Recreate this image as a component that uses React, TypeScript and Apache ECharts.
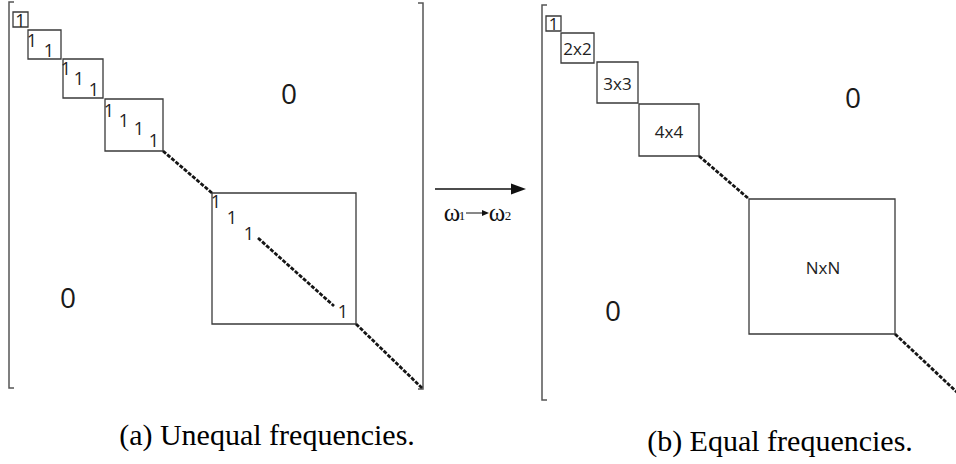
import React, { useEffect, useRef } from "react";
import * as echarts from "echarts";

// Drawing space (same units as the picture, y grows downward)
const SPACE_W = 956;
const SPACE_H = 464;

// Block boxes [x1, y1, x2, y2]
const boxesA = [
  [13, 12, 28, 27],
  [28, 30, 61, 59],
  [63, 59, 103, 98],
  [105, 99, 163, 151],
  [212, 193, 356, 324],
];
const boxesB = [
  [546, 16, 561, 31],
  [561, 33, 594, 63],
  [597, 62, 638, 103],
  [639, 104, 699, 156],
  [749, 199, 895, 334],
];
const boxLabelsB = ["1", "2x2", "3x3", "4x4", "NxN"];
const boxLabelPosB = [
  [553.5, 23.5],
  [577.5, 48.5],
  [617.5, 83],
  [669, 131],
  [823, 267],
];

// Dashed diagonal segments [x1, y1, x2, y2]
const dashesA = [
  [163, 151, 212, 193],
  [258, 238, 334, 306],
  [356, 324, 423, 389],
];
const dashesB = [
  [699, 156, 749, 199],
  [895, 334, 960, 395],
];

// The "1" entries on the diagonal of (a) [x, y]
const onesA = [
  [20.5, 19.5],
  [32, 40], [49, 50],
  [66, 68], [79, 78], [94, 89],
  [109, 110], [124, 120], [139, 128], [154, 140],
  [216, 201], [232, 217], [249, 233], [343, 311],
];

// Off-diagonal zeros [x, y]
const zeros = [
  [289, 93],
  [68, 297],
  [853, 97],
  [613, 310],
];

// Matrix brackets [x, top, bottom, tickDirection]
const brackets = [
  [9, 2, 388, 1],
  [423, 3, 389, -1],
  [542, 5, 400, 1],
];

// Transformation arrow [x1, y, x2] and its label anchor [x, y]
const arrowData = [[435, 189, 526]];
const arrowLabelAnchor = [[482, 213]];

// Sub-figure captions
const captionTexts = ["(a) Unequal frequencies.", "(b) Equal frequencies."];
const captionPos = [
  [267, 434],
  [780, 440],
];

const SANS = '"Open Sans", "Noto Sans", sans-serif';
const SERIF = '"Liberation Serif", "DejaVu Serif", serif';

export default function App() {
  const ref = useRef<HTMLDivElement>(null);

  useEffect(() => {
    if (!ref.current) return;
    const chart = echarts.init(ref.current, null, { renderer: "svg" });

    const boxSeries = (data: number[][]) => ({
      type: "custom",
      coordinateSystem: "cartesian2d",
      silent: true,
      data,
      renderItem: (params: any, api: any) => {
        const p1 = api.coord([api.value(0), api.value(1)]);
        const p2 = api.coord([api.value(2), api.value(3)]);
        return {
          type: "rect",
          shape: { x: p1[0], y: p1[1], width: p2[0] - p1[0], height: p2[1] - p1[1] },
          style: { fill: "none", stroke: "#3a3a3a", lineWidth: 1.3 },
        };
      },
    });

    const dashSeries = (data: number[][]) => ({
      type: "custom",
      coordinateSystem: "cartesian2d",
      silent: true,
      data,
      renderItem: (params: any, api: any) => {
        const p1 = api.coord([api.value(0), api.value(1)]);
        const p2 = api.coord([api.value(2), api.value(3)]);
        return {
          type: "line",
          shape: { x1: p1[0], y1: p1[1], x2: p2[0], y2: p2[1] },
          style: { stroke: "#151515", lineWidth: 2.8, lineDash: [4, 1.5] },
        };
      },
    });

    const textSeries = (
      data: number[][],
      getText: (i: number) => string,
      font: string,
      fill: string
    ) => ({
      type: "custom",
      coordinateSystem: "cartesian2d",
      silent: true,
      data,
      renderItem: (params: any, api: any) => {
        const p = api.coord([api.value(0), api.value(1)]);
        return {
          type: "text",
          x: p[0],
          y: p[1],
          style: {
            text: getText(params.dataIndex),
            font,
            fill,
            align: "center",
            verticalAlign: "middle",
          },
        };
      },
    });

    const option: any = {
      animation: false,
      grid: { left: 0, right: 0, top: 0, bottom: 0, containLabel: false },
      xAxis: { type: "value", min: 0, max: SPACE_W, show: false },
      yAxis: { type: "value", min: 0, max: SPACE_H, inverse: true, show: false },
      series: [
        // brackets
        {
          type: "custom",
          coordinateSystem: "cartesian2d",
          silent: true,
          data: brackets,
          renderItem: (params: any, api: any) => {
            const t = api.coord([api.value(0), api.value(1)]);
            const b = api.coord([api.value(0), api.value(2)]);
            const d = api.value(3) * 5;
            return {
              type: "polyline",
              shape: {
                points: [
                  [t[0] + d, t[1]],
                  [t[0], t[1]],
                  [b[0], b[1]],
                  [b[0] + d, b[1]],
                ],
              },
              style: { fill: "none", stroke: "#555", lineWidth: 1.5 },
            };
          },
        },
        boxSeries(boxesA),
        boxSeries(boxesB),
        dashSeries(dashesA),
        dashSeries(dashesB),
        textSeries(onesA, () => "1", `18px ${SANS}`, "#222"),
        textSeries(boxLabelPosB, (i) => boxLabelsB[i], `17px ${SANS}`, "#222"),
        textSeries(zeros, () => "0", `28px ${SANS}`, "#1a1a1a"),
        textSeries(captionPos, (i) => captionTexts[i], `30px ${SERIF}`, "#000"),
        // arrow
        {
          type: "custom",
          coordinateSystem: "cartesian2d",
          silent: true,
          data: arrowData,
          renderItem: (params: any, api: any) => {
            const p1 = api.coord([api.value(0), api.value(1)]);
            const p2 = api.coord([api.value(2), api.value(1)]);
            return {
              type: "group",
              children: [
                {
                  type: "line",
                  shape: { x1: p1[0], y1: p1[1], x2: p2[0] - 12, y2: p2[1] },
                  style: { stroke: "#111", lineWidth: 1.6 },
                },
                {
                  type: "polygon",
                  shape: {
                    points: [
                      [p2[0], p2[1]],
                      [p2[0] - 15, p2[1] - 5.5],
                      [p2[0] - 15, p2[1] + 5.5],
                    ],
                  },
                  style: { fill: "#111" },
                },
              ],
            };
          },
        },
        // arrow label  ω1 → ω2
        {
          type: "custom",
          coordinateSystem: "cartesian2d",
          silent: true,
          data: arrowLabelAnchor,
          renderItem: (params: any, api: any) => {
            const p = api.coord([api.value(0), api.value(1)]);
            const t = (dx: number, dy: number, text: string, size: number) => ({
              type: "text",
              x: p[0] + dx,
              y: p[1] + dy,
              style: {
                text,
                font: `${size}px ${SERIF}`,
                fill: "#111",
                align: "center",
                verticalAlign: "middle",
              },
            });
            return {
              type: "group",
              children: [
                t(-30, -1, "ω", 25),
                t(-20, 2, "1", 13),
                {
                  type: "line",
                  shape: { x1: p[0] - 16, y1: p[1], x2: p[0] + 2, y2: p[1] },
                  style: { stroke: "#111", lineWidth: 1 },
                },
                {
                  type: "polygon",
                  shape: {
                    points: [
                      [p[0] + 7, p[1]],
                      [p[0], p[1] - 3],
                      [p[0], p[1] + 3],
                    ],
                  },
                  style: { fill: "#111" },
                },
                t(15, -1, "ω", 25),
                t(26, 2, "2", 13),
              ],
            };
          },
        },
      ],
    };

    chart.setOption(option);
    return () => chart.dispose();
  }, []);

  return (
    <div
      ref={ref}
      style={{ position: "fixed", left: 0, top: 0, width: SPACE_W, height: SPACE_H, background: "#fff" }}
    />
  );
}
